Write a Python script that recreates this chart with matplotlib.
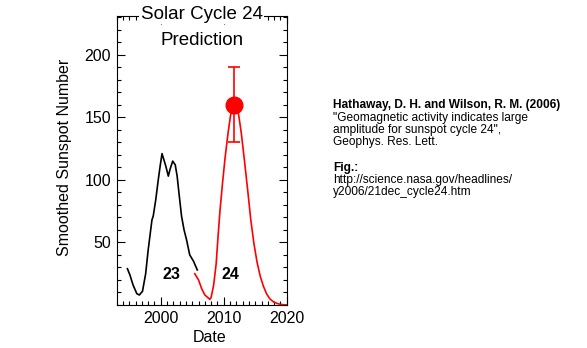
import matplotlib
matplotlib.use("Agg")
import matplotlib.pyplot as plt
from matplotlib.ticker import MultipleLocator

plt.rcParams['font.family'] = ['Liberation Sans', 'DejaVu Sans']

# ciclo 23: numero de manchas suavizado (observado)
c23_year = [1994.7, 1995.1, 1995.6, 1996.2, 1996.6, 1997.1, 1997.6, 1998.0,
            1998.6, 1998.8, 1999.2, 1999.6, 1999.9, 2000.2, 2000.5, 2000.8,
            2001.2, 2001.5, 2001.9, 2002.3, 2002.6, 2002.9, 2003.3, 2003.7,
            2004.1, 2004.6, 2005.2, 2005.8]
c23_ssn = [29, 24, 16, 9, 8, 11, 25, 44,
           68, 71, 84, 100, 111, 121, 116, 111,
           103, 109, 115, 112, 103, 89, 71, 60,
           52, 40, 35, 28]

# ciclo 24: curva de prediccion
c24_year = [2005.4, 2006.0, 2006.5, 2007.0, 2007.8, 2008.0, 2008.4, 2008.8,
            2009.1, 2009.4, 2009.8, 2010.2, 2010.7, 2011.1, 2011.5, 2011.8,
            2012.1, 2012.4, 2012.8, 2013.3, 2013.8, 2014.3, 2014.8, 2015.3,
            2015.8, 2016.3, 2016.8, 2017.3, 2017.9, 2018.6, 2019.3, 2020.0]
c24_ssn = [25, 20, 13, 8, 4.5, 6, 16, 33,
           55, 75, 97, 117, 138, 152, 160, 162,
           159, 151, 137, 115, 92, 68, 49, 34,
           23, 15, 9, 5, 2.5, 1, 0.3, 0]

# maximo predicho con su barra de error
pico_year = 2011.7
pico_ssn = 160
pico_err = 30

fig = plt.figure(figsize=(5.87, 3.48), dpi=100)
ax = fig.add_axes([0.1988, 0.1236, 0.2896, 0.8304])

ax.plot(c23_year, c23_ssn, color='black', lw=1.2)
ax.plot(c24_year, c24_ssn, color='red', lw=1.2)
ax.errorbar([pico_year], [pico_ssn], yerr=pico_err, fmt='o', color='red',
            ms=12, capsize=4.5, elinewidth=1.2, capthick=1.2)

ax.text(2001.7, 24, '23', fontsize=11.5, fontweight='bold', ha='center', va='center')
ax.text(2011.1, 24, '24', fontsize=11.5, fontweight='bold', ha='center', va='center')

ax.set_xlim(1993, 2020)
ax.set_ylim(0, 231)
ax.set_xticks([2000, 2010, 2020])
ax.set_yticks([50, 100, 150, 200])
ax.xaxis.set_minor_locator(MultipleLocator(1))
ax.yaxis.set_minor_locator(MultipleLocator(10))
ax.tick_params(which='both', direction='in', top=True, right=True,
               labelsize=11.5, pad=4)
ax.tick_params(which='major', length=6, width=0.8)
ax.tick_params(which='minor', length=3, width=0.8)
for s in ax.spines.values():
    s.set_linewidth(0.8)

ax.set_xlabel('Date', fontsize=11.5)
ax.xaxis.set_label_coords(0.549, -0.085)
ax.set_ylabel('Smoothed Sunspot Number', fontsize=11.5)
ax.yaxis.set_label_coords(-0.265, 0.51)

# titulo encima del borde superior
ax.text(0.5, 1.005, 'Solar Cycle 24', transform=ax.transAxes, fontsize=13.5,
        ha='center', va='center',
        bbox=dict(facecolor='white', edgecolor='none', pad=1))
ax.text(0.5, 0.915, 'Prediction', transform=ax.transAxes, fontsize=13.5,
        ha='center', va='center')

# referencia a la derecha
x0 = 333 / 587
fs = 8.6
fig.text(x0, 1 - 105 / 348, 'Hathaway, D. H. and Wilson, R. M. (2006)',
         fontsize=fs, fontweight='bold', va='center')
lineas = ['"Geomagnetic activity indicates large',
          'amplitude for sunspot cycle 24",',
          'Geophys. Res. Lett.']
for i, t in enumerate(lineas):
    fig.text(x0, 1 - (117.5 + 12.3 * i) / 348, t, fontsize=fs, va='center')
fig.text(x0, 1 - 167.5 / 348, 'Fig.:', fontsize=fs, fontweight='bold', va='center')
fig.text(x0, 1 - 180 / 348, 'http://science.nasa.gov/headlines/', fontsize=fs, va='center')
fig.text(x0, 1 - 192.3 / 348, 'y2006/21dec_cycle24.htm', fontsize=fs, va='center')

fig.savefig('out.png', dpi=100)
